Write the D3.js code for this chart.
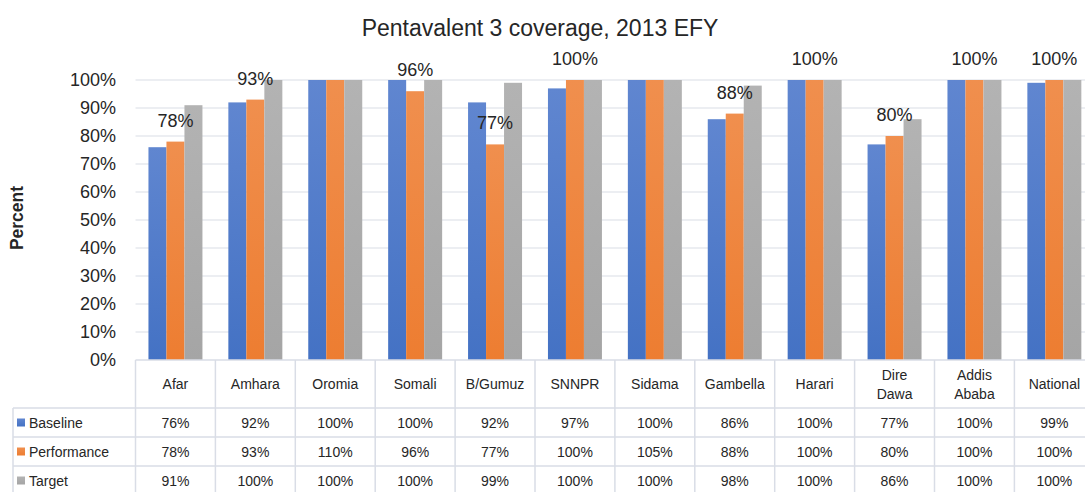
<!DOCTYPE html>
<html>
<head>
<meta charset="utf-8">
<script src="https://cdn.jsdelivr.net/npm/d3@7"></script>
<style>
  html, body { margin: 0; padding: 0; background: #fff; overflow: hidden; }
  svg { display: block; font-family: "Liberation Sans", Arial, sans-serif; }
</style>
</head>
<body>
<svg id="chart" width="1085" height="492"></svg>
<script>
// Pentavalent 3 coverage by region, 2013 EFY (percent)
const categories = ["Afar", "Amhara", "Oromia", "Somali", "B/Gumuz", "SNNPR", "Sidama",
  "Gambella", "Harari", "Dire Dawa", "Addis Ababa", "National"];
const categoryLines = [["Afar"], ["Amhara"], ["Oromia"], ["Somali"], ["B/Gumuz"], ["SNNPR"], ["Sidama"],
  ["Gambella"], ["Harari"], ["Dire", "Dawa"], ["Addis", "Ababa"], ["National"]];
const seriesNames = ["Baseline", "Performance", "Target"];
const baseline    = [76, 92, 100, 100, 92, 97, 100, 86, 100, 77, 100, 99];
const performance = [78, 93, 110, 96, 77, 100, 105, 88, 100, 80, 100, 100];
const target      = [91, 100, 100, 100, 99, 100, 100, 98, 100, 86, 100, 100];
const yTicks = [0, 10, 20, 30, 40, 50, 60, 70, 80, 90, 100];

const seriesValues = [baseline, performance, target];
const colors = ["#4472c4", "#ed7d31", "#a5a5a5"];
const lightColors = ["#6086d0", "#f08f4e", "#b3b3b3"];

const svg = d3.select("#chart");
const textColor = "#262626";
const lineColor = "#d9dde6";

// gradients for bar fills
const defs = svg.append("defs");
colors.forEach((c, i) => {
  const g = defs.append("linearGradient")
    .attr("id", "grad" + i).attr("x1", 0).attr("y1", 0).attr("x2", 0).attr("y2", 1);
  g.append("stop").attr("offset", "0%").attr("stop-color", lightColors[i]);
  g.append("stop").attr("offset", "100%").attr("stop-color", c);
});

const plotLeft = 135.5, colW = 79.9;
const plotTop = 80, plotBottom = 360;

const x = d3.scaleBand().domain(categories)
  .range([plotLeft, plotLeft + colW * categories.length]).paddingInner(0).paddingOuter(0);
const xs = d3.scaleBand().domain(seriesNames)
  .range([0, x.bandwidth()]).paddingInner(0).paddingOuter(0.72);
const y = d3.scaleLinear().domain([0, 100]).range([plotBottom, plotTop]).clamp(true);

// title
svg.append("text")
  .attr("x", 540).attr("y", 36)
  .attr("text-anchor", "middle")
  .attr("font-size", 23).attr("fill", textColor)
  .text("Pentavalent 3 coverage, 2013 EFY");

// gridlines
svg.append("g").selectAll("line")
  .data(yTicks.filter(t => t > 0))
  .join("line")
  .attr("x1", plotLeft).attr("x2", 1085)
  .attr("y1", d => y(d)).attr("y2", d => y(d))
  .attr("stroke", lineColor).attr("stroke-width", 1.2);

// y axis labels
const yAxis = d3.axisLeft(y).tickValues(yTicks).tickFormat(d => d + "%").tickSize(0).tickPadding(0);
const yg = svg.append("g").attr("transform", "translate(116,0)").call(yAxis);
yg.select(".domain").remove();
yg.selectAll("text").attr("font-size", 18).attr("fill", textColor)
  .attr("font-family", "Liberation Sans, Arial, sans-serif");

// y axis title
svg.append("text")
  .attr("transform", "translate(23,218) rotate(-90)")
  .attr("text-anchor", "middle")
  .attr("font-size", 17.5).attr("font-weight", "bold").attr("fill", textColor)
  .text("Percent");

// bars
const groups = svg.append("g").selectAll("g")
  .data(categories)
  .join("g")
  .attr("transform", d => `translate(${x(d)},0)`);

groups.selectAll("rect")
  .data((d, i) => seriesNames.map((s, k) => ({ s, k, v: seriesValues[k][i] })))
  .join("rect")
  .attr("x", d => xs(d.s))
  .attr("width", xs.bandwidth())
  .attr("y", d => y(d.v))
  .attr("height", d => plotBottom - y(d.v))
  .attr("fill", d => `url(#grad${d.k})`);

// data labels on performance bars (only values within the axis range)
const labelData = categories.map((c, i) => ({ c, v: performance[i] })).filter(d => d.v <= 100);
svg.append("g").selectAll("text")
  .data(labelData)
  .join("text")
  .attr("x", d => x(d.c) + xs("Performance") + xs.bandwidth() / 2)
  .attr("y", d => y(d.v) - 15)
  .attr("text-anchor", "middle")
  .attr("font-size", 18).attr("fill", textColor)
  .text(d => d.v + "%");

// data table
const tableLeft = 13;
const headerBottom = 408, rowH = 29;
const table = svg.append("g");

// horizontal lines
[plotBottom, headerBottom, headerBottom + rowH, headerBottom + 2 * rowH, headerBottom + 3 * rowH].forEach((yy, i) => {
  table.append("line")
    .attr("x1", i === 0 ? plotLeft : tableLeft).attr("x2", 1100)
    .attr("y1", yy).attr("y2", yy)
    .attr("stroke", lineColor).attr("stroke-width", 1.5);
});
// vertical lines
d3.range(categories.length + 1).forEach(i => {
  const xx = plotLeft + colW * i;
  table.append("line")
    .attr("x1", xx).attr("x2", xx)
    .attr("y1", plotBottom).attr("y2", 500)
    .attr("stroke", lineColor).attr("stroke-width", 1.5);
});
table.append("line")
  .attr("x1", tableLeft).attr("x2", tableLeft)
  .attr("y1", headerBottom).attr("y2", 500)
  .attr("stroke", lineColor).attr("stroke-width", 1.5);

// category header text
categories.forEach((c, i) => {
  const lines = categoryLines[i];
  const cx = x(c) + x.bandwidth() / 2;
  const midY = (plotBottom + headerBottom) / 2;
  lines.forEach((ln, j) => {
    table.append("text")
      .attr("x", cx)
      .attr("y", midY + (j - (lines.length - 1) / 2) * 19 + 5)
      .attr("text-anchor", "middle")
      .attr("font-size", 14).attr("fill", textColor)
      .text(ln);
  });
});

// series rows
seriesNames.forEach((s, k) => {
  const rowMid = headerBottom + rowH * k + rowH / 2;
  table.append("rect")
    .attr("x", 17).attr("y", rowMid - 4).attr("width", 8).attr("height", 8)
    .attr("fill", `url(#grad${k})`);
  table.append("text")
    .attr("x", 29).attr("y", rowMid + 5)
    .attr("font-size", 14).attr("fill", textColor)
    .text(s);
  categories.forEach((c, i) => {
    table.append("text")
      .attr("x", x(c) + x.bandwidth() / 2)
      .attr("y", rowMid + 5)
      .attr("text-anchor", "middle")
      .attr("font-size", 14).attr("fill", textColor)
      .text(seriesValues[k][i] + "%");
  });
});
</script>
</body>
</html>
